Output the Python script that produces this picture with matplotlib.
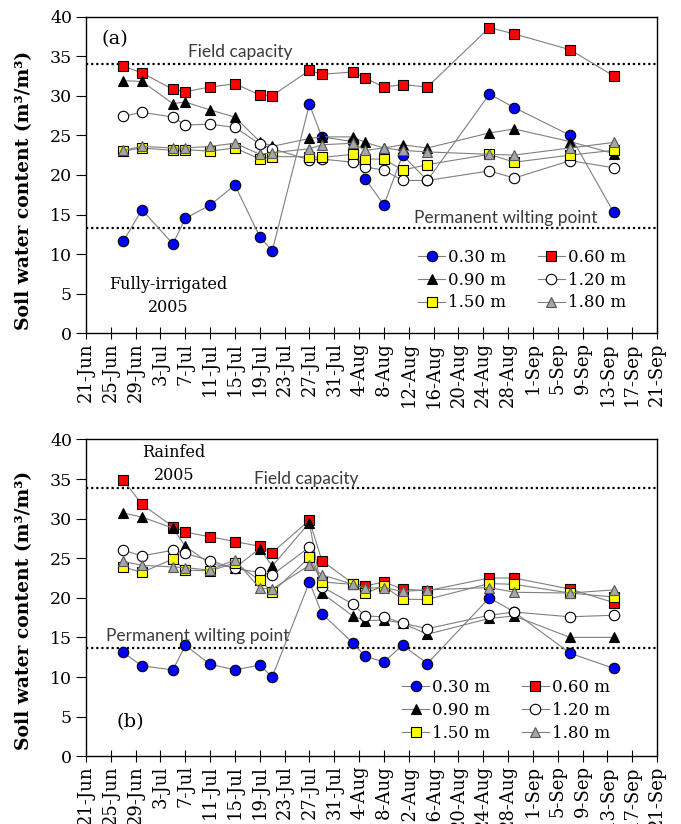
import matplotlib
matplotlib.use("Agg")
import matplotlib.pyplot as plt
import pandas as pd

# ---------------- data ----------------
dates = ["2005-06-27", "2005-06-30", "2005-07-05", "2005-07-07", "2005-07-11",
         "2005-07-15", "2005-07-19", "2005-07-21", "2005-07-27", "2005-07-29",
         "2005-08-03", "2005-08-05", "2005-08-08", "2005-08-11", "2005-08-15",
         "2005-08-25", "2005-08-29", "2005-09-07", "2005-09-14"]

depths = ["0.30 m", "0.60 m", "0.90 m", "1.20 m", "1.50 m", "1.80 m"]

# (a) Fully-irrigated 2005
irr_030 = [11.6, 15.6, 11.3, 14.5, 16.2, 18.7, 12.2, 10.4, 28.9, 24.8, 24.2, 19.5, 16.2, 22.5, 19.3, 30.2, 28.5, 25.0, 15.3]
irr_060 = [33.7, 32.9, 30.8, 30.5, 31.1, 31.5, 30.1, 30.0, 33.2, 32.7, 33.0, 32.2, 31.1, 31.4, 31.1, 38.6, 37.8, 35.8, 32.5]
irr_090 = [31.9, 31.8, 29.0, 29.2, 28.2, 27.3, 24.2, 23.6, 24.6, 24.8, 24.8, 24.1, 23.4, 23.8, 23.4, 25.3, 25.8, 24.2, 22.7]
irr_120 = [27.4, 27.9, 27.3, 26.3, 26.4, 26.0, 23.9, 23.3, 21.9, 22.0, 21.6, 21.0, 20.6, 19.3, 19.3, 20.5, 19.6, 21.8, 20.9]
irr_150 = [23.0, 23.4, 23.1, 23.2, 23.0, 23.4, 22.0, 22.3, 22.3, 22.2, 22.6, 22.0, 22.0, 20.6, 21.3, 22.6, 21.6, 22.5, 23.1]
irr_180 = [23.1, 23.6, 23.4, 23.4, 23.6, 24.0, 22.6, 22.8, 23.3, 23.8, 24.0, 23.1, 23.4, 23.1, 22.9, 22.6, 22.5, 23.4, 24.1]

# (b) Rainfed 2005
rf_030 = [13.1, 11.4, 10.9, 14.0, 11.6, 10.9, 11.5, 10.0, 22.0, 18.0, 14.3, 12.6, 11.9, 14.0, 11.7, 20.0, 18.2, 13.0, 11.1]
rf_060 = [34.9, 31.8, 29.0, 28.3, 27.7, 27.1, 26.5, 25.7, 29.8, 24.7, 21.8, 21.5, 22.0, 21.1, 20.9, 22.5, 22.5, 21.1, 19.4]
rf_090 = [30.7, 30.2, 28.8, 26.5, 24.3, 23.8, 26.2, 24.0, 29.5, 20.6, 17.7, 17.1, 17.2, 16.8, 15.4, 17.4, 17.7, 15.0, 15.0]
rf_120 = [26.0, 25.3, 26.0, 25.6, 24.7, 23.7, 23.2, 22.9, 26.4, 21.4, 19.2, 17.7, 17.6, 16.8, 16.1, 17.8, 18.2, 17.6, 17.8]
rf_150 = [23.9, 23.2, 24.9, 23.5, 23.4, 24.4, 22.2, 20.7, 25.1, 22.0, 21.7, 20.6, 21.5, 19.8, 19.8, 21.8, 21.7, 20.6, 20.1]
rf_180 = [24.6, 24.1, 23.9, 23.8, 23.5, 24.8, 21.2, 21.1, 24.1, 22.9, 21.7, 21.2, 21.3, 20.8, 21.0, 21.3, 20.7, 20.6, 21.0]

field_capacity = [34.0, 33.9]
wilting_point = [13.3, 13.6]

tick_dates = pd.date_range("2005-06-21", "2005-09-21", freq="4D")
tick_labels = [f"{d.day}-{d.strftime('%b')}" for d in tick_dates]

# ---------------- style ----------------
styles = [
    dict(marker="o", mfc="#0000FF", mec="black", ms=7.5),
    dict(marker="s", mfc="#FF0000", mec="black", ms=7.5),
    dict(marker="^", mfc="black", mec="black", ms=7.5),
    dict(marker="o", mfc="white", mec="black", ms=7.5),
    dict(marker="s", mfc="#FFFF00", mec="black", ms=7.5),
    dict(marker="^", mfc="#A6A6A6", mec="#555555", ms=7.5),
]

serif = "DejaVu Serif"
sans = "Lato"

fig = plt.figure(figsize=(6.81, 8.24), dpi=100)
ax1 = fig.add_axes([86/681, 1-333.3/824, (657-86)/681, (333.3-16.5)/824])
ax2 = fig.add_axes([86/681, 1-756.2/824, (657-86)/681, (756.2-439.4)/824])

x = pd.to_datetime(dates)

panels = [
    (ax1, [irr_030, irr_060, irr_090, irr_120, irr_150, irr_180], field_capacity[0], wilting_point[0],
     (0.764, 0.168), 0.452),
    (ax2, [rf_030, rf_060, rf_090, rf_120, rf_150, rf_180], field_capacity[1], wilting_point[1],
     (0.736, 0.144), 0.46),
]

for ax, series, fc, pwp, legpos, ylab_y in panels:
    handles = []
    for vals, st, lab in zip(series, styles, depths):
        h, = ax.plot(x, vals, color="#7F7F7F", lw=0.8, mew=0.8, label=lab, **st)
        handles.append(h)
    ax.axhline(fc, color="black", ls=(0, (1, 1.3)), lw=1.6, zorder=1)
    ax.axhline(pwp, color="black", ls=(0, (1, 1.3)), lw=1.6, zorder=1)
    ax.set_xlim(tick_dates[0], tick_dates[-1])
    ax.set_ylim(0, 40)
    ax.set_yticks(range(0, 41, 5))
    ax.set_xticks(tick_dates)
    ax.set_xticklabels(tick_labels, rotation=90, fontsize=13, family=serif)
    for t in ax.get_yticklabels():
        t.set_fontsize(12.5)
        t.set_family(serif)
    ax.tick_params(axis="x", direction="inout", length=9, width=0.8, pad=2)
    ax.tick_params(axis="y", direction="out", length=7, width=0.8, pad=3)
    for sp in ax.spines.values():
        sp.set_linewidth(1.0)
    ax.set_ylabel("Soil water content (m³/m³)", fontsize=13.5,
                  fontweight="bold", family=serif)
    ax.yaxis.set_label_coords(-0.093, ylab_y)
    order = [0, 2, 4, 1, 3, 5]
    ax.legend([handles[i] for i in order], [depths[i] for i in order],
              ncol=2, frameon=False, loc="center", bbox_to_anchor=legpos,
              prop=dict(family=serif, size=12),
              handlelength=1.6, handletextpad=0.2, columnspacing=1.9,
              labelspacing=0.35, borderaxespad=0.0, borderpad=0.0)

txtc = "#3A3A3A"
# annotations panel (a)
ax1.text(0.028, 0.93, "(a)", transform=ax1.transAxes, fontsize=14, family=serif, va="center")
ax1.text(0.27, 0.888, "Field capacity", transform=ax1.transAxes, fontsize=12.5,
         family=sans, color=txtc, va="center", ha="center")
ax1.text(0.735, 0.365, "Permanent wilting point", transform=ax1.transAxes, fontsize=12.5,
         family=sans, color=txtc, va="center", ha="center")
ax1.text(0.144, 0.118, "Fully-irrigated\n2005", transform=ax1.transAxes, fontsize=11.5,
         family=serif, va="center", ha="center", linespacing=1.45)

# annotations panel (b)
ax2.text(0.053, 0.108, "(b)", transform=ax2.transAxes, fontsize=14, family=serif, va="center")
ax2.text(0.385, 0.875, "Field capacity", transform=ax2.transAxes, fontsize=12.5,
         family=sans, color=txtc, va="center", ha="center")
ax2.text(0.195, 0.38, "Permanent wilting point", transform=ax2.transAxes, fontsize=12.5,
         family=sans, color=txtc, va="center", ha="center")
ax2.text(0.154, 0.922, "Rainfed\n2005", transform=ax2.transAxes, fontsize=11.5,
         family=serif, va="center", ha="center", linespacing=1.45)

fig.savefig("out.png", dpi=100)
